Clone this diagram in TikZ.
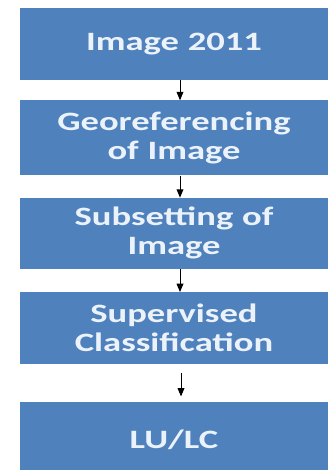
\documentclass[tikz,border=0pt]{standalone}
\usepackage{fontspec}
\newfontfamily\stagefont[FakeStretch=1.38]{Carlito}
\usetikzlibrary{arrows}
\usetikzlibrary{positioning}
\definecolor{boxblue}{RGB}{79,129,189}
\definecolor{boxtext}{RGB}{236,242,250}

\begin{document}
\begin{tikzpicture}[
    stage/.style={fill=boxblue, text=boxtext, minimum width=308pt, text width=300pt,
      align=center, inner sep=0pt, font=\stagefont\bfseries\fontsize{26.5}{29}\selectfont},
    >=triangle 45]
    \useasboundingbox (0,0) rectangle (334pt,-470pt);

    \node (img) [stage, minimum height=72pt] at (174pt,-44pt) {Image 2011};
    \node (geo) [stage, minimum height=75pt, below = 20pt of img] {Georeferencing\\of Image};
    \node (sub) [stage, minimum height=71pt, below = 22pt of geo] {Subsetting of\\Image};
    \node (sup) [stage, minimum height=72pt, below = 23pt of sub] {Supervised\\Classification};
    \node (lulc) [stage, minimum height=76pt, below = 37pt of sup] {LU/LC};

    \draw [->, line width=0.9pt] ([xshift=6pt]img.south) -- ([xshift=6pt]geo.north);
    \draw [->, line width=0.9pt] ([xshift=6pt]geo.south) -- ([xshift=6pt]sub.north);
    \draw [->, line width=0.9pt] ([xshift=6pt]sub.south) -- ([xshift=6pt]sup.north);
    \draw [->, line width=0.9pt, shorten <=9pt, shorten >=5pt] ([xshift=7pt]sup.south) -- ([xshift=7pt]lulc.north);
  \end{tikzpicture}
\end{document}
